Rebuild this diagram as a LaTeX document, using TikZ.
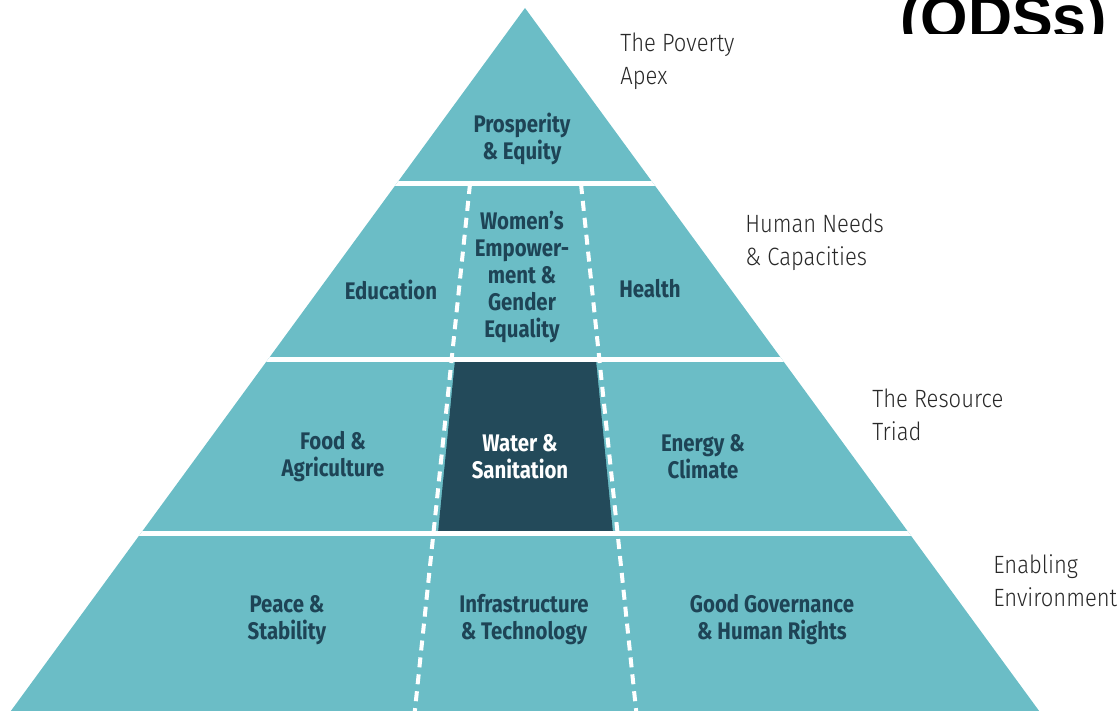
\documentclass[tikz,border=0pt]{standalone}
\usepackage{fontspec}
\setmainfont{Fira Sans}
\newfontfamily\pyrfont{Fira Sans}[FakeStretch=0.85]
\newfontfamily\sidefont{Fira Sans Light}[FakeStretch=0.88]
\newfontfamily\titlefont{Liberation Sans}
\usetikzlibrary{positioning,calc}

\definecolor{pyrteal}{RGB}{107,189,198}
\definecolor{pyrdark}{RGB}{35,74,90}
\definecolor{pyrtext}{RGB}{30,68,86}
\definecolor{sidegray}{RGB}{40,40,40}

\tikzset{
  goal/.style={font=\pyrfont\bfseries\fontsize{12}{13.5}\selectfont, text=pyrtext, align=center, inner sep=0pt},
  tier/.style={font=\sidefont\fontsize{12.5}{16.5}\selectfont, text=sidegray, align=left, inner sep=0pt, anchor=north west},
  band/.style={white, line width=2.5pt},
  divider/.style={white, line width=2pt, dash pattern=on 5pt off 3.5pt},
}

\begin{document}
\begin{tikzpicture}[x=0.5pt, y=-0.5pt]
  \useasboundingbox (0,0) rectangle (1120,711);
  \clip (0,0) rectangle (1120,711);

  % pyramid outline
  \coordinate (apex) at (525,8);
  \coordinate (bl) at (5,719);
  \coordinate (br) at (1045,719);
  \fill[pyrteal] (apex) -- (bl) -- (br) -- cycle;

  % water box between the dividers
  \fill[pyrdark] (455,360) -- (596,360) -- (613,533) -- (438,533) -- cycle;

  \begin{scope}
    \clip (apex) -- (bl) -- (br) -- cycle;
    \foreach \y in {184,360,533}
      \draw[band] (0,\y) -- (1120,\y);
    \coordinate (dl1) at (470,184);
    \coordinate (dl2) at (414,719);
    \coordinate (dr1) at (581,184);
    \coordinate (dr2) at (637,719);
    \draw[divider] (dl1) -- (dl2);
    \draw[divider] (dr1) -- (dr2);
  \end{scope}

  % goals
  \node[goal] (prosperity) at (522,139) {Prosperity\\\& Equity};
  \node[goal] (education)  at (391,290) {Education};
  \node[goal] (women)      at (522,277) {Women’s\\Empower-\\ment \&\\Gender\\Equality};
  \node[goal] (health)     at (650,289) {Health};
  \node[goal] (food)       at (333,457) {Food \&\\Agriculture};
  \node[goal, text=white] (water) at (520,457) {Water \&\\Sanitation};
  \node[goal] (energy)     at (703,457) {Energy \&\\Climate};
  \node[goal] (peace)      at (287,620) {Peace \&\\Stability};
  \node[goal] (infra)      at (524,620) {Infrastructure\\\& Technology};
  \node[goal] (governance) at (772,620) {Good Governance\\\& Human Rights};

  % tiers
  \node[tier] (apexlabel) at (620,33)  {The Poverty\\Apex};
  \node[tier] (needs)     at (745,214) {Human Needs\\\& Capacities};
  \node[tier] (resource)  at (872,389) {The Resource\\Triad};
  \node[tier] (enabling)  at (993,554) {Enabling\\Environment};

  \begin{scope}
    \clip (880,0) rectangle (1120,34);
    \node[font=\titlefont\bfseries\fontsize{30.5}{31}\selectfont, anchor=base west, inner sep=0pt] (odss) at (900,39) {(ODSs)};
  \end{scope}
\end{tikzpicture}
\end{document}
